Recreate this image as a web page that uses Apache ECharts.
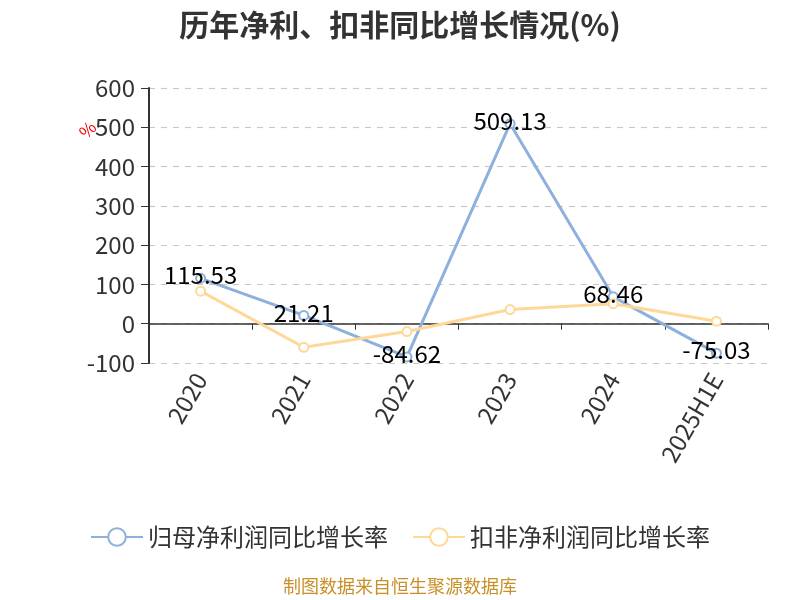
<!DOCTYPE html>
<html><head><meta charset="utf-8">
<script src="https://cdn.jsdelivr.net/npm/echarts@6/dist/echarts.min.js"></script>
<style>html,body{margin:0;padding:0;background:#fff}#c{width:800px;height:600px}</style>
</head><body><div id="c"></div>
<script>
var categories = ['2020','2021','2022','2023','2024','2025H1E'];
var netProfitGrowth = [115.53, 21.21, -84.62, 509.13, 68.46, -75.03];
var deductedGrowth = [82.8, -60, -20, 36, 51, 6.5];
var yTicks = {min: -100, max: 600, interval: 100};
var seriesNames = ['归母净利润同比增长率', '扣非净利润同比增长率'];

var chart = echarts.init(document.getElementById('c'));
var font = '"Microsoft YaHei","Noto Sans CJK SC",sans-serif';
chart.setOption({
  backgroundColor: '#fff',
  title: {text: '历年净利、扣非同比增长情况(%)', left: 'center', top: 5,
    textStyle: {fontSize: 30, fontWeight: 'bold', color: '#333', fontFamily: font}},
  graphic: [
    {type: 'text', left: 76, top: 118, rotation: Math.PI/4,
     style: {text: '%', fill: '#e00', font: '17px ' + font}},
    {type: 'text', left: 'center', top: 577,
     style: {text: '制图数据来自恒生聚源数据库', fill: '#c8902a', font: '18px ' + font}}
  ],
  legend: {top: 520, left: 'center', itemWidth: 52, itemHeight: 22, itemGap: 24,
    textStyle: {fontSize: 24, color: '#333', fontFamily: font},
    data: seriesNames},
  grid: {left: 149, right: 32, top: 88, bottom: 237},
  xAxis: {type: 'category', data: categories, boundaryGap: true,
    axisLine: {onZero: true, lineStyle: {color: '#333', width: 1.5}},
    axisTick: {show: true, length: 6, lineStyle: {color: '#333'}},
    axisLabel: {rotate: 60, fontSize: 24, color: '#333', margin: 12, fontFamily: font}},
  yAxis: {type: 'value', min: yTicks.min, max: yTicks.max, interval: yTicks.interval,
    axisLine: {show: true, lineStyle: {color: '#333', width: 2}},
    axisTick: {show: true, length: 8, lineStyle: {color: '#333'}},
    axisLabel: {fontSize: 24, color: '#333', margin: 14, fontFamily: font},
    splitLine: {lineStyle: {type: [6, 6], color: '#c8c8c8', width: 1.2}}},
  series: [
    {name: seriesNames[0], type: 'line', data: netProfitGrowth, symbol: 'emptyCircle', symbolSize: 9,
     lineStyle: {width: 3, color: '#8eb0dd'}, itemStyle: {color: '#8eb0dd', borderWidth: 1.5},
     label: {show: true, position: 'inside', offset: [0, -3], fontSize: 24, color: '#000', fontFamily: font}},
    {name: seriesNames[1], type: 'line', data: deductedGrowth, symbol: 'emptyCircle', symbolSize: 9,
     lineStyle: {width: 3, color: '#ffd898'}, itemStyle: {color: '#ffd898', borderWidth: 1.5},
     label: {show: false}}
  ]
});
</script></body></html>
